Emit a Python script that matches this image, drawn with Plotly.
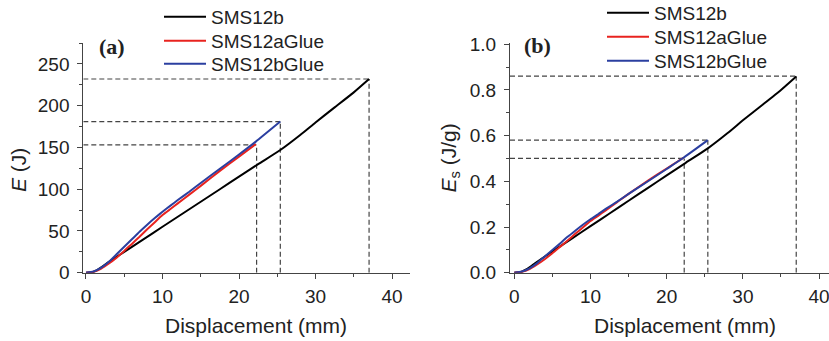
import plotly.graph_objects as go

# ---------------- data ----------------
# Panel (a): absorbed energy E (J) vs displacement (mm)
b_x = [0, 0.5, 1, 1.5, 2, 3, 5, 7.5, 10, 12.5, 15, 17.5, 20, 22.5, 25.4, 28, 30, 32.5, 35, 37]
b_E = [0, 0.2, 1.2, 3.5, 6.5, 13, 25, 40, 55, 70, 85, 100, 115, 130, 147, 165, 180, 198, 216, 232]

ag_x = [0, 1, 2, 3, 4, 5, 6, 7, 8, 9, 10, 11, 12, 13.5, 15, 17.5, 20, 22.2]
ag_E = [0, 1.2, 5, 11, 18, 26, 34.5, 43, 52, 60.5, 69, 76, 83, 93.5, 104, 122, 139, 154]

bg_x = [0, 1, 2, 3, 4, 5, 6, 7, 8, 9, 10, 11, 12, 13.5, 15, 17.5, 20, 22.2, 25.4]
bg_E = [0, 1.5, 6, 13, 22, 31, 40, 49, 57.5, 65.5, 73, 80, 87, 97, 107.5, 124.5, 141.5, 157, 181]

# Panel (b): specific energy Es (J/g)
b_Es = [0, 0.001, 0.004, 0.013, 0.024, 0.048, 0.093, 0.148, 0.204, 0.259, 0.315, 0.370,
        0.426, 0.481, 0.544, 0.611, 0.667, 0.733, 0.800, 0.859]
ag_Es = [0, 0.004, 0.016, 0.036, 0.059, 0.085, 0.113, 0.141, 0.170, 0.198, 0.226, 0.249,
         0.273, 0.309, 0.345, 0.402, 0.456, 0.503]
bg_Es = [0, 0.005, 0.019, 0.042, 0.071, 0.099, 0.128, 0.157, 0.184, 0.210, 0.234, 0.256,
         0.279, 0.311, 0.345, 0.399, 0.454, 0.503, 0.580]

# end points marked by dashed guide lines
end_x = [22.3, 25.4, 37.0]
end_E = [153, 181, 232]
end_Es = [0.50, 0.58, 0.86]

names = ["SMS12b", "SMS12aGlue", "SMS12bGlue"]
colors = ["#000000", "#e8231f", "#2b3fa0"]

xr_a = [-0.35, 42.35]
yr_a = [0, 275.5]
xr_b = [-0.56, 41.3]
yr_b = [0, 1.0066]

# ---------------- figure ----------------
W, H = 829, 341
FONT = "Liberation Sans, Arial, Helvetica, sans-serif"
fig = go.Figure()

series_a = [(b_x, b_E), (ag_x, ag_E), (bg_x, bg_E)]
series_b = [(b_x, b_Es), (ag_x, ag_Es), (bg_x, bg_Es)]

legend_names_a = ["legend", "legend2", "legend3"]
legend_names_b = ["legend4", "legend5", "legend6"]

for (x, y), n, c, lg in zip(series_a, names, colors, legend_names_a):
    fig.add_trace(go.Scatter(x=x, y=y, mode="lines", name=n,
                             line=dict(color=c, width=2, shape="spline", smoothing=0.5),
                             xaxis="x", yaxis="y", legend=lg))
for (x, y), n, c, lg in zip(series_b, names, colors, legend_names_b):
    fig.add_trace(go.Scatter(x=x, y=y, mode="lines", name=n,
                             line=dict(color=c, width=2, shape="spline", smoothing=0.5),
                             xaxis="x2", yaxis="y2", legend=lg))

dash = dict(color="#444444", width=1.2, dash="5px,3px")
shapes = []
for ex, ey in zip(end_x, end_E):
    shapes.append(dict(type="line", xref="x", yref="y", x0=xr_a[0], x1=ex, y0=ey, y1=ey, line=dash, layer="below"))
    shapes.append(dict(type="line", xref="x", yref="y", x0=ex, x1=ex, y0=0, y1=ey, line=dash, layer="below"))
for ex, ey in zip(end_x, end_Es):
    shapes.append(dict(type="line", xref="x2", yref="y2", x0=xr_b[0], x1=ex, y0=ey, y1=ey, line=dash, layer="below"))
    shapes.append(dict(type="line", xref="x2", yref="y2", x0=ex, x1=ex, y0=0, y1=ey, line=dash, layer="below"))

tickfont = dict(family=FONT, size=19, color="#222222")
axis_common = dict(showline=True, linecolor="#444444", linewidth=1, ticks="outside", ticklen=5,
                   tickwidth=1, tickcolor="#444444", showgrid=False, zeroline=False, tickfont=tickfont,
                   ticklabeloverflow="allow")

y_bot = 1 - 272.7 / H
y_top = 1 - 42.7 / H

legend_font = dict(family=FONT, size=19, color="#222222")
rows_a = [17, 41, 64]
rows_b = [13, 37, 61]
legends = {}
for lg, r in zip(legend_names_a, rows_a):
    legends[lg] = dict(x=159 / W, y=1 - r / H, xanchor="left", yanchor="middle", bgcolor="rgba(0,0,0,0)",
                       font=legend_font, itemwidth=42)
for lg, r in zip(legend_names_b, rows_b):
    legends[lg] = dict(x=602 / W, y=1 - r / H, xanchor="left", yanchor="middle", bgcolor="rgba(0,0,0,0)",
                       font=legend_font, itemwidth=42)

fig.update_layout(
    width=W, height=H, margin=dict(l=0, r=0, t=0, b=0, autoexpand=False),
    plot_bgcolor="white", paper_bgcolor="white",
    shapes=shapes,
    xaxis=dict(domain=[83.3 / W, 410 / W], range=xr_a, dtick=10, tick0=0, anchor="y",
               minor=dict(ticks="outside", ticklen=3, dtick=5, tick0=0, tickcolor="#444444"),
               ticklabelstandoff=1, **axis_common),
    yaxis=dict(domain=[y_bot, y_top], range=yr_a, dtick=50, tick0=0, anchor="x",
               minor=dict(ticks="outside", ticklen=3, dtick=25, tick0=0, tickcolor="#444444"),
               ticklabelstandoff=4, **axis_common),
    xaxis2=dict(domain=[510 / W, 1.0], range=xr_b, dtick=10, tick0=0, anchor="y2",
                minor=dict(ticks="outside", ticklen=3, dtick=5, tick0=0, tickcolor="#444444"),
                ticklabelstandoff=1, **axis_common),
    yaxis2=dict(domain=[y_bot, y_top], range=yr_b, dtick=0.2, tick0=0, tickformat=".1f", anchor="x2",
                minor=dict(ticks="outside", ticklen=3, dtick=0.1, tick0=0, tickcolor="#444444"),
                ticklabelstandoff=4, **axis_common),
    showlegend=True,
    **legends,
)

title_font = dict(family=FONT, size=21, color="#222222")
ann = [
    dict(text="Displacement (mm)", x=256 / W, y=1 - 325 / H, xref="paper", yref="paper",
         showarrow=False, font=title_font, xanchor="center", yanchor="middle"),
    dict(text="Displacement (mm)", x=685 / W, y=1 - 325 / H, xref="paper", yref="paper",
         showarrow=False, font=title_font, xanchor="center", yanchor="middle"),
    dict(text="<i>E</i> (J)", x=18 / W, y=1 - 170 / H, xref="paper", yref="paper", textangle=-90,
         showarrow=False, font=title_font, xanchor="center", yanchor="middle"),
    dict(text="<i>E</i><sub>s</sub> (J/g)", x=449 / W, y=1 - 157.5 / H, xref="paper", yref="paper",
         textangle=-90, showarrow=False, font=title_font, xanchor="center", yanchor="middle"),
    dict(text="<b>(a)</b>", x=112 / W, y=1 - 47 / H, xref="paper", yref="paper",
         showarrow=False, font=dict(family="Liberation Serif, Times New Roman, serif", size=22, color="#222222"),
         xanchor="center", yanchor="middle"),
    dict(text="<b>(b)</b>", x=537 / W, y=1 - 45 / H, xref="paper", yref="paper",
         showarrow=False, font=dict(family="Liberation Serif, Times New Roman, serif", size=22, color="#222222"),
         xanchor="center", yanchor="middle"),
]
fig.update_layout(annotations=ann)

fig.write_html("out.html")
